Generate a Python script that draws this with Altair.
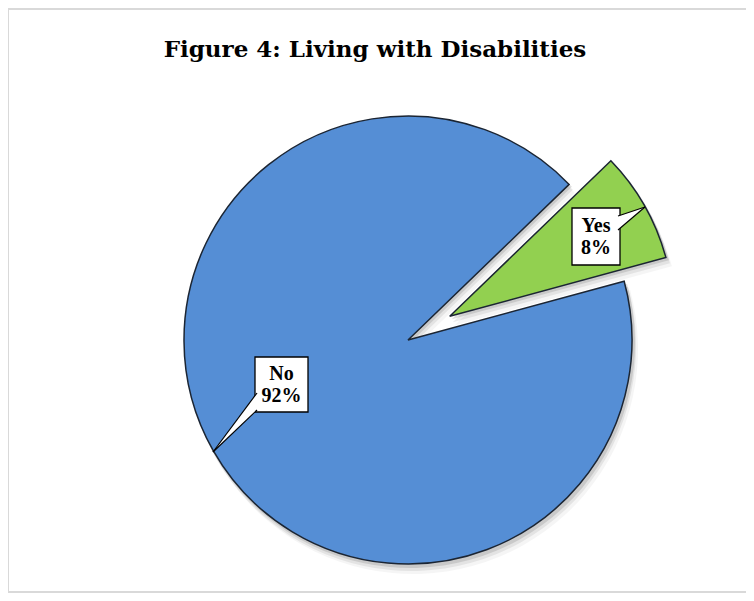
import altair as alt
import pandas as pd
import math

# ---------------- data ----------------
categories = ["Yes", "No"]
shares = [8, 92]
slice_colors = ["#92D050", "#558ED5"]
explode_px = [48, 0]
title_text = "Figure 4: Living with Disabilities"

# ---------------- layout (chart pixel coordinates) ----------------
W, H = 738, 585
CX, CY, R = 400, 332, 224
START_DEG = 46
LINE_H = 22

box_layout = pd.DataFrame({
    "cat": ["Yes", "No"],
    "x": [564, 247], "x2": [612, 300],
    "y": [200, 349], "y2": [257, 404],
})
pointer_area = pd.DataFrame({
    "pid": ["Yes", "Yes", "No", "No"],
    "px": [610, 637, 205, 249],
    "py": [208, 199, 444, 385],
    "py2": [222, 199, 444, 402],
})
pointer_edges = pd.DataFrame({
    "x": [610, 610, 249, 249], "y": [208, 222, 385, 402],
    "x2": [637, 637, 205, 205], "y2": [199, 199, 444, 444],
})
border = pd.DataFrame({
    "x": [0, 0, 0], "y": [1, 0, 584],
    "x2": [W, 0, W], "y2": [1, 585, 584],
})

# ---------------- tables ----------------
df = pd.DataFrame({"cat": categories, "share": shares, "explode": explode_px})
df["end"] = df["share"].cumsum()
df["start"] = df["end"] - df["share"]
total = float(sum(shares))

labels = box_layout.merge(df, on="cat")
labels["tx"] = (labels["x"] + labels["x2"]) / 2
labels["ty"] = (labels["y"] + labels["y2"]) / 2 - LINE_H / 2
labels["label"] = labels["cat"] + "\n" + labels["share"].astype(str) + "%"

xs = alt.Scale(domain=[0, W], nice=False, zero=False)
ys = alt.Scale(domain=[0, H], nice=False, zero=False, reverse=True)
a0 = math.radians(START_DEG)
ts = alt.Scale(domain=[0, total], range=[a0, a0 + 2 * math.pi], nice=False, zero=False)
cs = alt.Scale(domain=categories, range=slice_colors)

mid_expr = f"{a0} + (datum.start + datum.end) / 2 / {total} * 2 * PI"


def pie_base(dx=0, dy=0):
    return alt.Chart(df).transform_calculate(
        mid=mid_expr
    ).transform_calculate(
        cx=f"{CX + dx} + datum.explode * sin(datum.mid)",
        cy=f"{CY + dy} - datum.explode * cos(datum.mid)",
    )


def shadow(dx, dy, op):
    return pie_base(dx, dy).mark_arc(outerRadius=R + 1, color="#7f7f7f", opacity=op).encode(
        x=alt.X("cx:Q", scale=xs, axis=None),
        y=alt.Y("cy:Q", scale=ys, axis=None),
        theta=alt.Theta("start:Q", scale=ts, stack=None),
        theta2="end:Q",
    )


shadows = [shadow(2, 3, 0.25), shadow(3, 6, 0.15), shadow(5, 9, 0.08)]

slices = pie_base().mark_arc(outerRadius=R, stroke="#1b2533", strokeWidth=1.5).encode(
    x=alt.X("cx:Q", scale=xs, axis=None),
    y=alt.Y("cy:Q", scale=ys, axis=None),
    theta=alt.Theta("start:Q", scale=ts, stack=None),
    theta2="end:Q",
    color=alt.Color("cat:N", scale=cs, legend=None),
)

borders = alt.Chart(border).mark_rule(color="#d9d9d9", strokeWidth=2).encode(
    x=alt.X("x:Q", scale=xs, axis=None), y=alt.Y("y:Q", scale=ys, axis=None),
    x2="x2:Q", y2="y2:Q",
)

boxes = alt.Chart(labels).mark_rect(fill="white", stroke="black", strokeWidth=1.3).encode(
    x=alt.X("x:Q", scale=xs, axis=None), x2="x2:Q",
    y=alt.Y("y:Q", scale=ys, axis=None), y2="y2:Q",
)

ptr_fill = alt.Chart(pointer_area).mark_area(fill="white", strokeWidth=0).encode(
    x=alt.X("px:Q", scale=xs, axis=None),
    y=alt.Y("py:Q", scale=ys, axis=None, stack=None),
    y2="py2:Q",
    detail="pid:N",
)

ptr_edges = alt.Chart(pointer_edges).mark_rule(color="black", strokeWidth=1.2).encode(
    x=alt.X("x:Q", scale=xs, axis=None), y=alt.Y("y:Q", scale=ys, axis=None),
    x2="x2:Q", y2="y2:Q",
)

texts = alt.Chart(labels).mark_text(
    font="Liberation Serif", fontWeight="bold", fontSize=20, lineBreak="\n",
    lineHeight=LINE_H, align="center", baseline="middle", color="black",
).encode(
    x=alt.X("tx:Q", scale=xs, axis=None), y=alt.Y("ty:Q", scale=ys, axis=None),
    text="label:N",
)

title = alt.Chart(pd.DataFrame({"t": [title_text], "x": [367], "y": [49]})).mark_text(
    font="DejaVu Serif", fontWeight="bold", fontSize=23, align="center",
    baseline="alphabetic", color="black",
).encode(
    x=alt.X("x:Q", scale=xs, axis=None), y=alt.Y("y:Q", scale=ys, axis=None),
    text="t:N",
)

chart = alt.layer(
    borders, *shadows, slices, boxes, ptr_fill, ptr_edges, texts, title
).properties(
    width=W, height=H, padding=0, autosize=alt.AutoSizeParams(type="none"),
    background="white",
).configure_view(strokeWidth=0)

chart.save("out.html", embed_options={"renderer": "svg", "actions": False})
